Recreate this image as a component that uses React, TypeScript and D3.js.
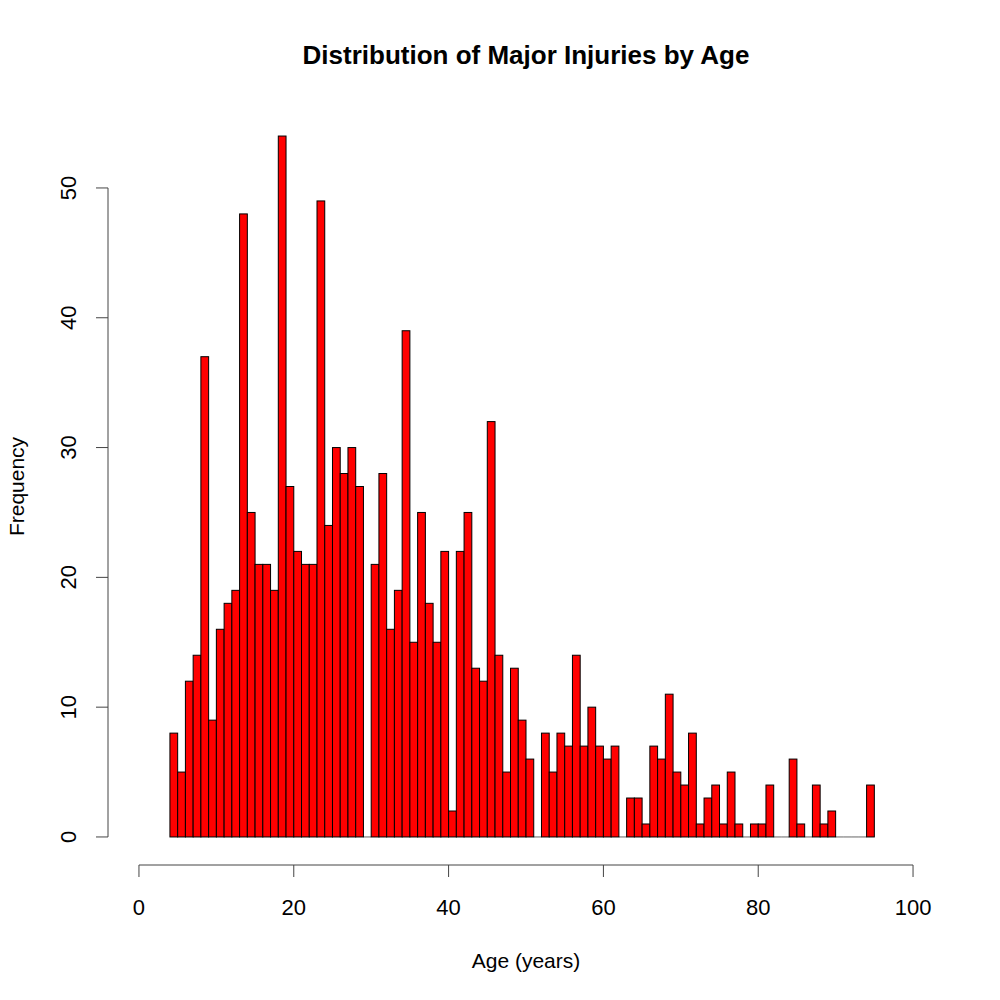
import React from "react";
import * as d3 from "d3";

// Histogram of injury counts per one-year age bin (left edge of each bin).
const binStarts: number[] = [
  4, 5, 6, 7, 8, 9, 10, 11, 12, 13, 14, 15, 16, 17, 18, 19, 20, 21, 22, 23, 24,
  25, 26, 27, 28, 29, 30, 31, 32, 33, 34, 35, 36, 37, 38, 39, 40, 41, 42, 43, 44,
  45, 46, 47, 48, 49, 50, 51, 52, 53, 54, 55, 56, 57, 58, 59, 60, 61, 62, 63, 64,
  65, 66, 67, 68, 69, 70, 71, 72, 73, 74, 75, 76, 77, 78, 79, 80, 81, 82, 83, 84,
  85, 86, 87, 88, 89, 90, 91, 92, 93, 94,
];
const counts: number[] = [
  8, 5, 12, 14, 37, 9, 16, 18, 19, 48, 25, 21, 21, 19, 54, 27, 22, 21, 21, 49, 24,
  30, 28, 30, 27, 0, 21, 28, 16, 19, 39, 15, 25, 18, 15, 22, 2, 22, 25, 13, 12,
  32, 14, 5, 13, 9, 6, 0, 8, 5, 8, 7, 14, 7, 10, 7, 6, 7, 0, 3, 3,
  1, 7, 6, 11, 5, 4, 8, 1, 3, 4, 1, 5, 1, 0, 1, 1, 4, 0, 0, 6,
  1, 0, 4, 1, 2, 0, 0, 0, 0, 4,
];
const binWidth = 1;
const xTicks: number[] = [0, 20, 40, 60, 80, 100];
const yTicks: number[] = [0, 10, 20, 30, 40, 50];

const titleText = "Distribution of Major Injuries by Age";
const xLabel = "Age (years)";
const yLabel = "Frequency";

const W = 1000;
const H = 1000;
const plot = { left: 108, right: 944, top: 108, bottom: 865 };
const FONT = "'Liberation Sans', Arial, Helvetica, sans-serif";

export default function App() {
  // R-style 4% padding around the data range
  const x = d3.scaleLinear().domain([-4, 104]).range([plot.left, plot.right]);
  const y = d3.scaleLinear().domain([-2.16, 56.16]).range([plot.bottom, plot.top]);

  const axisColor = "#444";

  return (
    <svg
      width={W}
      height={H}
      viewBox={`0 0 ${W} ${H}`}
      style={{ position: "absolute", left: 0, top: 0, background: "#fff" }}
    >
      <rect x={0} y={0} width={W} height={H} fill="#fff" />

      {/* bars */}
      <g>
        {binStarts.map((b, i) => {
          const x0 = x(b);
          const x1 = x(b + binWidth);
          const c = counts[i];
          if (c === 0) {
            return (
              <line
                key={b}
                x1={x0}
                x2={x1}
                y1={y(0)}
                y2={y(0)}
                stroke="#000"
                strokeWidth={1}
                opacity={0.6}
              />
            );
          }
          return (
            <rect
              key={b}
              x={x0}
              y={y(c)}
              width={x1 - x0}
              height={y(0) - y(c)}
              fill="#ff0000"
              stroke="#000"
              strokeWidth={1}
            />
          );
        })}
      </g>

      {/* x axis */}
      <g>
        <line
          x1={x(xTicks[0])}
          x2={x(xTicks[xTicks.length - 1])}
          y1={plot.bottom}
          y2={plot.bottom}
          stroke={axisColor}
          strokeWidth={1}
        />
        {xTicks.map((t) => (
          <g key={t}>
            <line
              x1={x(t)}
              x2={x(t)}
              y1={plot.bottom}
              y2={plot.bottom + 12}
              stroke={axisColor}
              strokeWidth={1}
            />
            <text
              x={x(t)}
              y={915}
              textAnchor="middle"
              fontFamily={FONT}
              fontSize={22}
              fill="#000"
            >
              {t}
            </text>
          </g>
        ))}
      </g>

      {/* y axis */}
      <g>
        <line
          x1={plot.left}
          x2={plot.left}
          y1={y(yTicks[0])}
          y2={y(yTicks[yTicks.length - 1])}
          stroke={axisColor}
          strokeWidth={1}
        />
        {yTicks.map((t) => (
          <g key={t}>
            <line
              x1={plot.left - 12}
              x2={plot.left}
              y1={y(t)}
              y2={y(t)}
              stroke={axisColor}
              strokeWidth={1}
            />
            <text
              transform={`translate(76, ${y(t)}) rotate(-90)`}
              textAnchor="middle"
              fontFamily={FONT}
              fontSize={22}
              fill="#000"
            >
              {t}
            </text>
          </g>
        ))}
      </g>

      {/* titles */}
      <text
        x={(plot.left + plot.right) / 2}
        y={64}
        textAnchor="middle"
        fontFamily={FONT}
        fontSize={26}
        fontWeight="bold"
        fill="#000"
      >
        {titleText}
      </text>
      <text
        x={(plot.left + plot.right) / 2}
        y={968}
        textAnchor="middle"
        fontFamily={FONT}
        fontSize={21}
        fill="#000"
      >
        {xLabel}
      </text>
      <text
        transform={`translate(24, ${(plot.top + plot.bottom) / 2}) rotate(-90)`}
        textAnchor="middle"
        fontFamily={FONT}
        fontSize={21}
        fill="#000"
      >
        {yLabel}
      </text>
    </svg>
  );
}
